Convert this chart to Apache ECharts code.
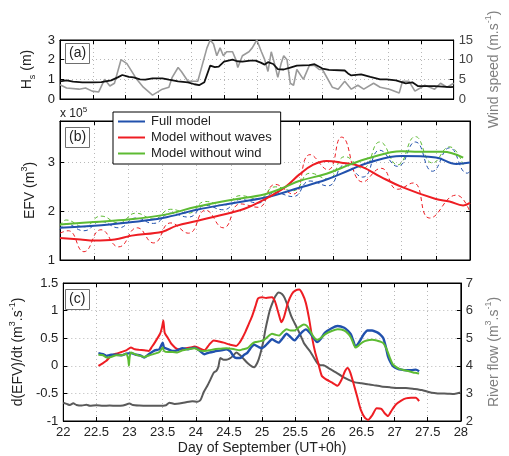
<!DOCTYPE html>
<html>
<head>
<meta charset="utf-8">
<script src="https://cdn.jsdelivr.net/npm/echarts@6/dist/echarts.min.js"></script>
<style>
  html, body { margin: 0; padding: 0; background: #fff; }
  #chart { width: 509px; height: 456px; }
</style>
</head>
<body>
<div id="chart"></div>
<script>
// ---- Panel (a): significant wave height (m) and wind speed (m/s) ----
const hsData = [
  [22.00,0.90],[22.10,0.95],[22.20,0.88],[22.34,0.85],[22.50,0.85],[22.63,0.86],[22.78,0.95],[22.88,1.10],
  [22.95,1.22],[23.05,1.12],[23.12,1.10],[23.22,1.00],[23.30,0.98],[23.41,1.05],[23.56,1.05],[23.66,0.98],
  [23.80,0.90],[23.95,0.85],[24.05,0.75],[24.12,0.70],[24.20,0.85],[24.29,1.70],[24.36,1.62],[24.42,1.65],
  [24.50,1.90],[24.63,2.00],[24.70,1.92],[24.78,1.90],[24.90,1.95],[24.98,1.95],[25.06,1.85],[25.12,1.75],
  [25.17,1.87],[25.25,1.78],[25.32,1.52],[25.41,1.50],[25.51,1.60],[25.61,1.70],[25.80,1.72],[25.88,1.77],
  [26.00,1.55],[26.10,1.48],[26.34,1.45],[26.39,1.30],[26.44,1.20],[26.59,1.25],[26.73,1.12],[26.88,1.00],
  [26.98,1.00],[27.12,0.95],[27.27,0.80],[27.37,0.85],[27.46,0.65],[27.71,0.65],[27.95,0.60],[28.00,0.62]
];
const windData = [
  [22.00,3.6],[22.10,2.8],[22.29,2.5],[22.39,2.8],[22.49,2.0],[22.59,1.8],[22.68,5.0],[22.76,3.3],
  [22.83,4.0],[22.93,10.0],[23.02,9.0],[23.17,5.0],[23.27,3.0],[23.41,1.0],[23.56,2.5],[23.66,3.0],
  [23.71,5.5],[23.80,8.0],[23.85,7.0],[23.95,4.5],[24.10,4.5],[24.24,13.0],[24.29,15.0],[24.34,14.0],
  [24.39,11.0],[24.44,13.0],[24.49,11.0],[24.54,12.0],[24.63,12.0],[24.68,10.0],[24.71,8.0],[24.78,11.0],
  [24.88,12.0],[24.93,13.0],[25.00,15.0],[25.07,12.0],[25.12,10.0],[25.17,7.0],[25.22,12.0],[25.27,9.0],
  [25.32,5.5],[25.37,9.0],[25.41,11.0],[25.46,10.0],[25.51,4.0],[25.56,3.5],[25.61,7.5],[25.71,5.0],
  [25.80,8.5],[25.88,8.5],[25.95,7.5],[26.00,7.5],[26.15,3.0],[26.24,2.5],[26.34,4.5],[26.44,2.5],
  [26.54,3.5],[26.63,2.5],[26.78,4.0],[26.88,3.0],[27.02,2.5],[27.17,1.5],[27.22,4.5],[27.32,4.5],
  [27.41,2.0],[27.51,3.0],[27.56,3.5],[27.71,2.5],[27.80,4.0],[27.90,3.0],[28.00,4.0]
];

// ---- Panel (b): EFV (x 10^5 m^3), tidally filtered (solid) and raw (dashed) ----
const efvFull = [
  [22.0,1.66],[22.5,1.70],[23.0,1.77],[23.5,1.86],[24.0,2.03],[24.5,2.16],[25.0,2.28],[25.5,2.48],
  [25.9,2.65],[26.25,2.85],[26.5,2.99],[27.0,3.13],[27.5,3.10],[27.8,2.97],[28.0,3.00]
];
const efvWaves = [
  [22.0,1.45],[22.3,1.42],[22.5,1.40],[22.8,1.42],[23.05,1.50],[23.5,1.58],[23.7,1.70],[24.0,1.80],
  [24.5,1.97],[24.7,2.05],[25.0,2.25],[25.3,2.50],[25.5,2.75],[25.7,2.95],[25.9,3.03],[26.1,3.00],
  [26.4,2.92],[26.7,2.70],[27.0,2.50],[27.5,2.25],[27.7,2.20],[27.9,2.12],[28.0,2.17]
];
const efvWind = [
  [22.0,1.73],[22.5,1.78],[23.0,1.83],[23.5,1.92],[24.0,2.09],[24.5,2.23],[25.0,2.35],[25.3,2.50],
  [25.5,2.62],[25.9,2.77],[26.25,2.96],[26.5,3.08],[27.0,3.23],[27.25,3.22],[27.6,3.22],[27.9,3.10]
];
const efvFullRaw = [
  [22.0,1.62],[22.09,1.74],[22.35,1.60],[22.6,1.79],[22.86,1.66],[23.11,1.86],[23.37,1.75],[23.62,1.96],
  [23.88,1.88],[24.13,2.12],[24.39,2.03],[24.64,2.24],[24.9,2.17],[25.15,2.38],[25.41,2.30],[25.66,2.62],
  [25.92,2.52],[26.17,2.95],[26.43,2.70],[26.68,3.25],[26.94,2.92],[27.2,3.42],[27.45,2.82],[27.7,3.30],
  [27.96,2.78],[28.0,2.82]
];
const efvWavesRaw = [
  [22.0,1.55],[22.12,1.60],[22.35,1.17],[22.6,1.62],[22.86,1.27],[23.13,1.66],[23.37,1.35],[23.62,1.76],
  [23.88,1.55],[24.13,2.02],[24.39,1.66],[24.64,2.15],[24.9,2.08],[25.15,2.55],[25.41,2.35],[25.66,3.16],
  [25.92,2.85],[26.12,3.52],[26.43,2.60],[26.7,2.88],[26.94,2.45],[27.17,2.58],[27.41,1.86],[27.8,2.33],
  [28.0,1.98]
];
const efvWindRaw = [
  [22.0,1.70],[22.09,1.82],[22.35,1.68],[22.6,1.90],[22.86,1.76],[23.11,1.96],[23.37,1.84],[23.62,2.04],
  [23.88,1.96],[24.13,2.20],[24.39,2.12],[24.64,2.32],[24.9,2.25],[25.15,2.50],[25.41,2.42],[25.66,2.78],
  [25.92,2.66],[26.17,3.12],[26.43,2.88],[26.68,3.42],[26.94,2.95],[27.2,3.53],[27.45,2.99],[27.7,3.32],
  [27.9,2.95]
];

// ---- Panel (c): d(EFV)/dt (m^3/s) and river flow (m^3/s) ----
const dEfvFull = [
  [22.53,0.23],[22.60,0.21],[22.65,0.18],[22.72,0.20],[22.80,0.20],[22.88,0.19],[22.95,0.22],[23.02,0.23],
  [23.10,0.20],[23.16,0.19],[23.22,0.15],[23.30,0.22],[23.38,0.28],[23.45,0.30],[23.50,0.42],[23.52,0.33],
  [23.58,0.30],[23.65,0.27],[23.72,0.28],[23.80,0.32],[23.88,0.30],[23.98,0.33],[24.05,0.28],[24.13,0.21],
  [24.20,0.24],[24.28,0.26],[24.38,0.28],[24.46,0.30],[24.52,0.26],[24.57,0.17],[24.61,0.14],[24.67,0.14],
  [24.73,0.20],[24.78,0.24],[24.84,0.34],[24.88,0.38],[24.95,0.34],[25.00,0.32],[25.08,0.40],[25.15,0.48],
  [25.21,0.44],[25.25,0.42],[25.31,0.50],[25.37,0.58],[25.43,0.52],[25.49,0.46],[25.55,0.54],[25.61,0.62],
  [25.66,0.66],[25.72,0.60],[25.78,0.50],[25.83,0.43],[25.88,0.48],[25.95,0.60],[26.05,0.68],[26.14,0.72],
  [26.24,0.69],[26.30,0.63],[26.34,0.57],[26.38,0.44],[26.41,0.35],[26.45,0.40],[26.49,0.48],[26.54,0.58],
  [26.59,0.64],[26.66,0.64],[26.73,0.61],[26.78,0.57],[26.83,0.50],[26.87,0.33],[26.90,0.17],[26.94,0.06],
  [26.98,-0.01],[27.04,-0.05],[27.10,-0.07],[27.18,-0.08],[27.25,-0.08],[27.32,-0.07],[27.37,-0.10]
];
const dEfvWaves = [
  [22.53,0.00],[22.60,0.05],[22.65,0.09],[22.72,0.18],[22.80,0.22],[22.88,0.25],[22.95,0.28],[23.02,0.33],
  [23.08,0.30],[23.14,0.29],[23.22,0.28],[23.29,0.27],[23.34,0.35],[23.38,0.42],[23.46,0.58],[23.49,0.70],
  [23.51,0.82],[23.53,0.60],[23.58,0.50],[23.63,0.40],[23.73,0.30],[23.82,0.31],[23.92,0.33],[23.98,0.35],
  [24.05,0.32],[24.13,0.28],[24.20,0.38],[24.27,0.46],[24.35,0.44],[24.42,0.42],[24.52,0.38],[24.61,0.36],
  [24.66,0.42],[24.70,0.50],[24.75,0.62],[24.80,0.76],[24.85,0.90],[24.90,1.08],[24.94,1.22],[25.00,1.24],
  [25.06,1.23],[25.15,1.24],[25.19,1.18],[25.22,1.07],[25.26,0.90],[25.29,0.79],[25.33,0.88],[25.39,1.14],
  [25.45,1.30],[25.50,1.36],[25.56,1.38],[25.61,1.30],[25.66,1.14],[25.71,0.85],[25.76,0.48],[25.80,0.25],
  [25.84,0.08],[25.90,-0.18],[25.96,-0.24],[26.05,-0.30],[26.14,-0.36],[26.20,-0.25],[26.25,-0.10],[26.29,-0.04],
  [26.33,-0.12],[26.38,-0.32],[26.44,-0.58],[26.49,-0.80],[26.55,-0.94],[26.60,-0.98],[26.66,-0.90],[26.73,-0.77],
  [26.80,-0.78],[26.85,-0.86],[26.90,-0.91],[26.96,-0.80],[27.02,-0.70],[27.10,-0.63],[27.17,-0.59],[27.25,-0.58],
  [27.32,-0.58],[27.37,-0.64]
];
const dEfvWind = [
  [22.53,0.20],[22.60,0.19],[22.65,0.15],[22.72,0.16],[22.80,0.19],[22.88,0.19],[22.95,0.22],[22.98,0.12],
  [22.99,0.00],[23.00,0.15],[23.02,0.24],[23.10,0.20],[23.16,0.18],[23.22,0.16],[23.30,0.19],[23.38,0.22],
  [23.45,0.25],[23.50,0.33],[23.52,0.27],[23.58,0.25],[23.65,0.25],[23.72,0.24],[23.80,0.28],[23.88,0.30],
  [23.98,0.32],[24.05,0.28],[24.13,0.27],[24.20,0.28],[24.28,0.30],[24.38,0.31],[24.46,0.32],[24.52,0.31],
  [24.58,0.30],[24.66,0.28],[24.71,0.30],[24.78,0.32],[24.85,0.40],[24.90,0.43],[24.95,0.44],[25.02,0.46],
  [25.08,0.52],[25.15,0.58],[25.21,0.56],[25.26,0.55],[25.32,0.62],[25.37,0.66],[25.43,0.64],[25.49,0.64],
  [25.56,0.70],[25.63,0.75],[25.68,0.72],[25.73,0.62],[25.78,0.52],[25.83,0.47],[25.88,0.50],[25.95,0.57],
  [26.05,0.63],[26.14,0.66],[26.24,0.64],[26.30,0.58],[26.34,0.51],[26.38,0.40],[26.41,0.33],[26.46,0.37],
  [26.52,0.43],[26.58,0.46],[26.66,0.47],[26.73,0.46],[26.78,0.44],[26.83,0.41],[26.88,0.30],[26.93,0.14],
  [26.97,0.03],[27.02,-0.02],[27.08,-0.06],[27.15,-0.08],[27.22,-0.10],[27.28,-0.12],[27.33,-0.13],[27.37,-0.14]
];
const riverFlow = [
  [22.00,2.66],[22.05,2.62],[22.10,2.58],[22.15,2.64],[22.20,2.58],[22.28,2.56],[22.35,2.59],[22.40,2.55],
  [22.50,2.57],[22.60,2.55],[22.70,2.56],[22.80,2.55],[22.90,2.56],[23.00,2.63],[23.05,2.58],[23.15,2.56],
  [23.25,2.55],[23.35,2.55],[23.45,2.55],[23.55,2.57],[23.60,2.66],[23.68,2.62],[23.75,2.63],[23.85,2.68],
  [23.95,2.72],[24.02,2.70],[24.07,2.76],[24.12,3.05],[24.17,3.26],[24.22,3.50],[24.27,3.75],[24.31,3.82],
  [24.34,3.96],[24.37,4.28],[24.42,4.22],[24.46,4.22],[24.52,4.28],[24.56,4.36],[24.61,4.48],[24.66,4.40],
  [24.71,4.28],[24.78,4.10],[24.85,3.97],[24.88,3.95],[24.93,4.12],[24.97,4.40],[25.02,4.90],[25.05,5.31],
  [25.09,5.75],[25.12,6.04],[25.16,6.30],[25.20,6.52],[25.25,6.66],[25.30,6.60],[25.34,6.46],[25.39,6.15],
  [25.44,5.80],[25.49,5.55],[25.54,5.31],[25.59,5.05],[25.63,4.83],[25.68,4.66],[25.73,4.50],[25.78,4.30],
  [25.83,4.11],[25.88,4.02],[25.93,4.02],[25.98,3.95],[26.05,3.85],[26.12,3.75],[26.20,3.63],[26.30,3.50],
  [26.40,3.40],[26.50,3.37],[26.60,3.33],[26.68,3.30],[26.80,3.25],[26.93,3.22],[27.05,3.20],[27.17,3.20],
  [27.30,3.16],[27.41,3.12],[27.50,3.06],[27.56,3.02],[27.65,3.00],[27.80,2.99],[27.90,2.98],[28.00,3.03]
];

const legendNames = ['Full model', 'Model without waves', 'Model without wind'];
const panelLabels = ['(a)', '(b)', '(c)'];

const FONT = '"Liberation Sans", Arial, Helvetica, sans-serif';
const BLUE = '#2151ad', RED = '#ee1d23', GREEN = '#5dbb33';
const GRID_LINE = { show: true, lineStyle: { color: '#b8b8b8', type: [1, 3], width: 1 } };
const TICK_IN = { show: true, inside: true, length: 4, lineStyle: { color: '#000' } };
const AXIS_LINE = { show: true, onZero: false, lineStyle: { color: '#000', width: 1 } };
const LABEL = { fontFamily: FONT, fontSize: 13, color: '#222' };
const nameRich = {
  t: { fontFamily: FONT, fontSize: 14, lineHeight: 20 },
  s: { fontFamily: FONT, fontSize: 9, lineHeight: 10, verticalAlign: 'bottom' },
  p: { fontFamily: FONT, fontSize: 9, lineHeight: 10, verticalAlign: 'top' }
};
const greyRich = {
  t: { fontFamily: FONT, fontSize: 14, lineHeight: 20, color: '#808080' },
  p: { fontFamily: FONT, fontSize: 9, lineHeight: 10, verticalAlign: 'top', color: '#808080' }
};

const grids = [
  { left: 60, right: 39, top: 40, height: 59 },
  { left: 60, right: 39, top: 121, height: 139 },
  { left: 60, right: 39, top: 283, height: 139 }
];

function xAxisPair(g, showLabels) {
  return [
    {
      type: 'value', gridIndex: g, min: 22, max: 28, interval: 0.5,
      axisLine: AXIS_LINE, axisTick: TICK_IN, splitLine: GRID_LINE,
      axisLabel: { show: showLabels, ...LABEL, margin: 5 },
      name: showLabels ? 'Day of September (UT+0h)' : '',
      nameLocation: 'middle', nameGap: 20,
      nameTextStyle: { fontFamily: FONT, fontSize: 14, color: '#222' }
    },
    {
      type: 'value', gridIndex: g, position: 'top', min: 22, max: 28, interval: 0.5,
      axisLine: AXIS_LINE, axisTick: TICK_IN, splitLine: { show: false },
      axisLabel: { show: false }
    }
  ];
}

const option = {
  animation: false,
  backgroundColor: '#fff',
  grid: grids.map(g => ({ ...g, show: true, borderColor: '#000', borderWidth: 1, backgroundColor: 'transparent' })),
  title: panelLabels.map((t, i) => ({
    text: t,
    left: 65,
    top: [43, 127, 289][i],
    padding: [2, 4, 2, 4],
    borderColor: '#6e6e6e',
    borderWidth: 1,
    backgroundColor: '#fff',
    textStyle: { fontFamily: FONT, fontSize: 14, fontWeight: 'normal', color: '#222', lineHeight: 17 }
  })),
  legend: {
    data: legendNames,
    orient: 'vertical',
    left: 113, top: 112,
    itemWidth: 27, itemHeight: 2, itemGap: 3,
    icon: 'rect',
    padding: [3, 9, 4, 5],
    backgroundColor: '#fff',
    borderColor: '#000', borderWidth: 1,
    textStyle: { fontFamily: FONT, fontSize: 13, color: '#222', padding: [0, 0, 0, 1] }
  },
  graphic: [{
    type: 'text', left: 60, top: 106,
    style: {
      text: '{a|x 10}{b|5}',
      rich: {
        a: { fontFamily: FONT, fontSize: 12, lineHeight: 16, fill: '#222' },
        b: { fontFamily: FONT, fontSize: 8, lineHeight: 10, verticalAlign: 'top', fill: '#222' }
      }
    }
  }],
  xAxis: [...xAxisPair(0, false), ...xAxisPair(1, false), ...xAxisPair(2, true)],
  yAxis: [
    {
      type: 'value', gridIndex: 0, min: 0, max: 3, interval: 1,
      axisLine: AXIS_LINE, axisTick: TICK_IN, splitLine: GRID_LINE,
      axisLabel: { ...LABEL, margin: 5 },
      name: '{t|H}{s|s}{t| (m)}', nameLocation: 'middle', nameGap: 18,
      nameTextStyle: { rich: nameRich, color: '#222' }
    },
    {
      type: 'value', gridIndex: 0, position: 'right', min: 0, max: 15, interval: 5,
      axisLine: AXIS_LINE, axisTick: TICK_IN, splitLine: { show: false },
      axisLabel: { ...LABEL, color: '#444', margin: 5 },
      name: '{t|Wind speed (m.s}{p|-1}{t|)}', nameLocation: 'middle', nameGap: 20,
      nameTextStyle: { rich: greyRich }
    },
    {
      type: 'value', gridIndex: 1, min: 1, max: 3.85, interval: 1,
      axisLine: AXIS_LINE, axisTick: TICK_IN, splitLine: GRID_LINE,
      axisLabel: { ...LABEL, margin: 5, showMaxLabel: false },
      name: '{t|EFV (m}{p|3}{t|)}', nameLocation: 'middle', nameGap: 20,
      nameTextStyle: { rich: nameRich, color: '#222' }
    },
    {
      type: 'value', gridIndex: 1, position: 'right', min: 1, max: 3.85, interval: 1,
      axisLine: AXIS_LINE, axisTick: TICK_IN, splitLine: { show: false },
      axisLabel: { show: false }
    },
    {
      type: 'value', gridIndex: 2, min: -1, max: 1.5, interval: 0.5,
      axisLine: AXIS_LINE, axisTick: TICK_IN, splitLine: GRID_LINE,
      axisLabel: { ...LABEL, margin: 5 },
      name: '{t|d(EFV)/dt (m}{p|3}{t|.s}{p|-1}{t|)}', nameLocation: 'middle', nameGap: 30,
      nameTextStyle: { rich: nameRich, color: '#222' }
    },
    {
      type: 'value', gridIndex: 2, position: 'right', min: 2, max: 7, interval: 1,
      axisLine: AXIS_LINE, axisTick: TICK_IN, splitLine: { show: false },
      axisLabel: { ...LABEL, color: '#333', margin: 5 },
      name: '{t|River flow (m}{p|3}{t|.s}{p|-1}{t|)}', nameLocation: 'middle', nameGap: 20,
      nameTextStyle: { rich: greyRich }
    }
  ],
  series: [
    // panel (a)
    { type: 'line', name: 'Wind speed', xAxisIndex: 0, yAxisIndex: 1, data: windData, symbol: 'none',
      lineStyle: { color: '#9a9a9a', width: 1.6 }, z: 2 },
    { type: 'line', name: 'Hs', xAxisIndex: 0, yAxisIndex: 0, data: hsData, symbol: 'none',
      lineStyle: { color: '#111', width: 1.8 }, z: 3 },
    // panel (b): raw (dashed) first, filtered (solid) on top
    { type: 'line', name: 'Full model raw', xAxisIndex: 2, yAxisIndex: 2, data: efvFullRaw, symbol: 'none', smooth: 0.5,
      lineStyle: { color: BLUE, width: 1, type: [4, 3] } },
    { type: 'line', name: 'Model without waves raw', xAxisIndex: 2, yAxisIndex: 2, data: efvWavesRaw, symbol: 'none', smooth: 0.5,
      lineStyle: { color: RED, width: 1, type: [4, 3] } },
    { type: 'line', name: 'Model without wind raw', xAxisIndex: 2, yAxisIndex: 2, data: efvWindRaw, symbol: 'none', smooth: 0.5,
      lineStyle: { color: GREEN, width: 1, type: [4, 3] } },
    { type: 'line', name: legendNames[0], xAxisIndex: 2, yAxisIndex: 2, data: efvFull, symbol: 'none', smooth: 0.4,
      lineStyle: { color: BLUE, width: 2 }, itemStyle: { color: BLUE } },
    { type: 'line', name: legendNames[1], xAxisIndex: 2, yAxisIndex: 2, data: efvWaves, symbol: 'none', smooth: 0.4,
      lineStyle: { color: RED, width: 2 }, itemStyle: { color: RED } },
    { type: 'line', name: legendNames[2], xAxisIndex: 2, yAxisIndex: 2, data: efvWind, symbol: 'none', smooth: 0.4,
      lineStyle: { color: GREEN, width: 2 }, itemStyle: { color: GREEN } },
    // panel (c)
    { type: 'line', name: 'River flow', xAxisIndex: 4, yAxisIndex: 5, data: riverFlow, symbol: 'none', smooth: 0.2,
      lineStyle: { color: '#5a5a5a', width: 2 } },
    { type: 'line', name: 'Rate without waves', xAxisIndex: 4, yAxisIndex: 4, data: dEfvWaves, symbol: 'none', smooth: 0.2,
      lineStyle: { color: RED, width: 2 } },
    { type: 'line', name: 'Rate full model', xAxisIndex: 4, yAxisIndex: 4, data: dEfvFull, symbol: 'none', smooth: 0.2,
      lineStyle: { color: BLUE, width: 2.4 } },
    { type: 'line', name: 'Rate without wind', xAxisIndex: 4, yAxisIndex: 4, data: dEfvWind, symbol: 'none', smooth: 0.2,
      lineStyle: { color: GREEN, width: 2 } }
  ]
};

const chart = echarts.init(document.getElementById('chart'), null, { renderer: 'canvas' });
chart.setOption(option);
</script>
</body>
</html>
